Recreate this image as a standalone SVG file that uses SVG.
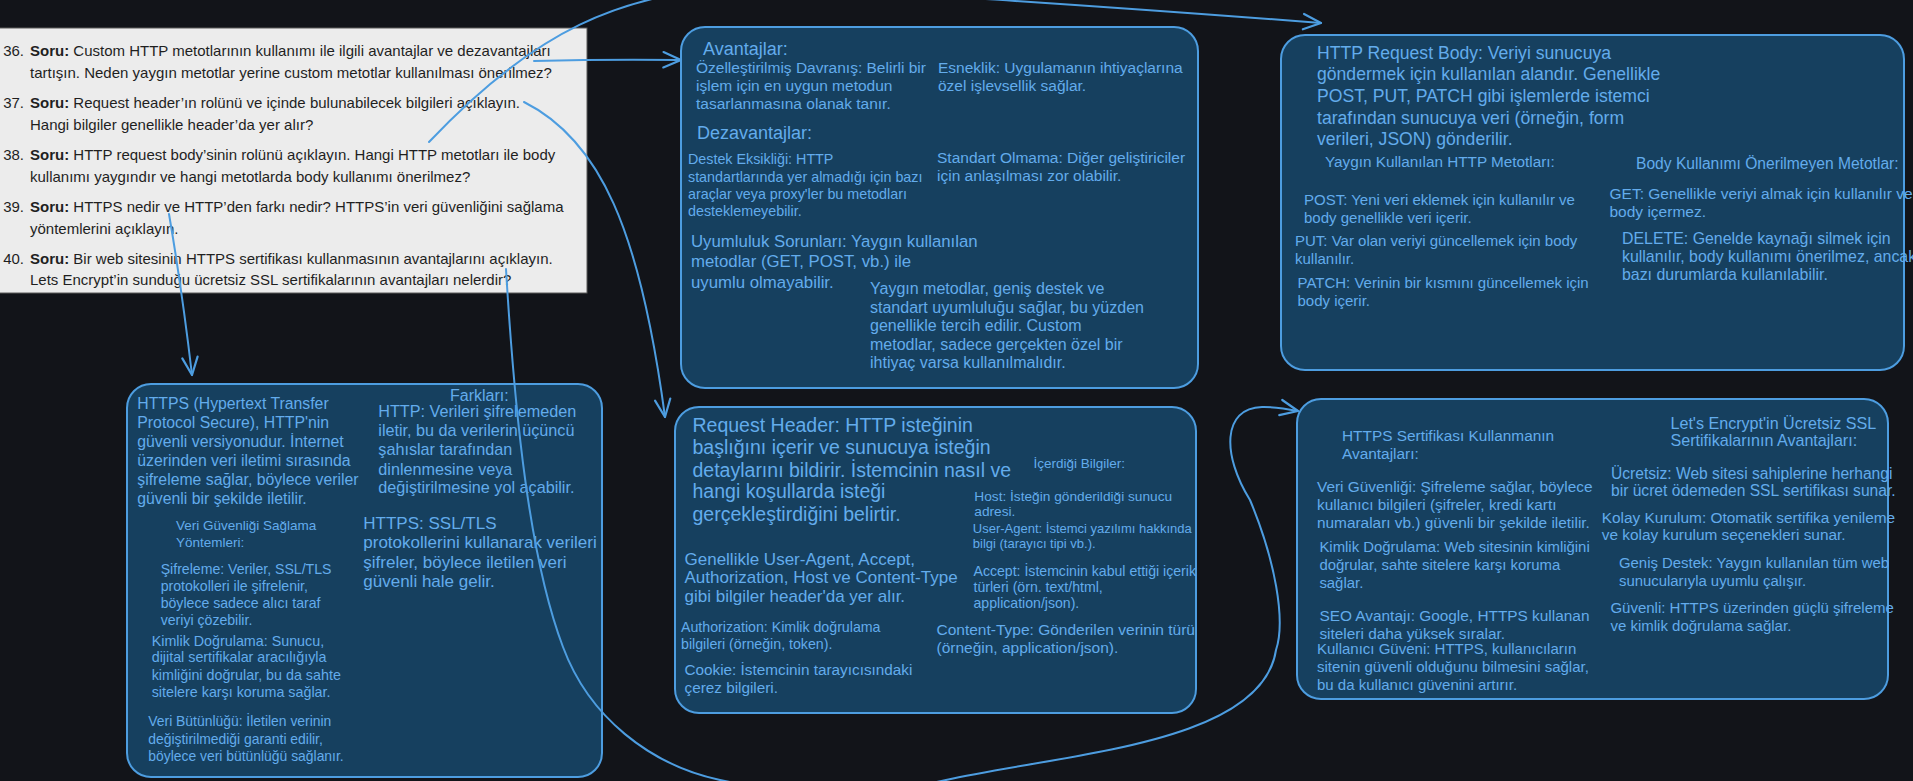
<svg xmlns="http://www.w3.org/2000/svg" width="1913" height="781" viewBox="0 0 1913 781">
<defs>
<style>
.bg{fill:#121419}
.box{fill:#16405f;stroke:#4d9de0;stroke-width:2}
.t{font-family:"Liberation Sans",Arial,sans-serif;fill:#63acec}
.q{font-family:"Liberation Sans",Arial,sans-serif;fill:#1f1f1f;font-size:15px}
.conn{fill:none;stroke:#4d9de0;stroke-width:2;stroke-linecap:round}
</style>
<marker id="ah" markerUnits="userSpaceOnUse" markerWidth="22" markerHeight="22" viewBox="0 0 20 20" refX="18" refY="10" orient="auto">
<path d="M2,3 L18,10 L2,17" fill="none" stroke="#4d9de0" stroke-width="2" stroke-linecap="round" stroke-linejoin="round"/>
</marker>
</defs>
<rect class="bg" x="0" y="0" width="1913" height="781"/>

<g id="questions">
<rect x="-10" y="28" width="597" height="265" fill="#ececec" stroke="#5a5a5a" stroke-width="1"/>
<text class="q" x="24" y="56" text-anchor="end">36.</text>
<text class="q" x="30" y="56"><tspan font-weight="bold">Soru:</tspan> Custom HTTP metotlarının kullanımı ile ilgili avantajlar ve dezavantajları</text>
<text class="q" x="30" y="78">tartışın. Neden yaygın metotlar yerine custom metotlar kullanılması önerilmez?</text>
<text class="q" x="24" y="108" text-anchor="end">37.</text>
<text class="q" x="30" y="108"><tspan font-weight="bold">Soru:</tspan> Request header’ın rolünü ve içinde bulunabilecek bilgileri açıklayın.</text>
<text class="q" x="30" y="130">Hangi bilgiler genellikle header’da yer alır?</text>
<text class="q" x="24" y="160" text-anchor="end">38.</text>
<text class="q" x="30" y="160"><tspan font-weight="bold">Soru:</tspan> HTTP request body’sinin rolünü açıklayın. Hangi HTTP metotları ile body</text>
<text class="q" x="30" y="182">kullanımı yaygındır ve hangi metotlarda body kullanımı önerilmez?</text>
<text class="q" x="24" y="212" text-anchor="end">39.</text>
<text class="q" x="30" y="212"><tspan font-weight="bold">Soru:</tspan> HTTPS nedir ve HTTP’den farkı nedir? HTTPS’in veri güvenliğini sağlama</text>
<text class="q" x="30" y="234">yöntemlerini açıklayın.</text>
<text class="q" x="24" y="264" text-anchor="end">40.</text>
<text class="q" x="30" y="264"><tspan font-weight="bold">Soru:</tspan> Bir web sitesinin HTTPS sertifikası kullanmasının avantajlarını açıklayın.</text>
<text class="q" x="30" y="285">Lets Encrypt’in sunduğu ücretsiz SSL sertifikalarının avantajları nelerdir?</text>
</g>

<g id="node-custom-methods">
<rect class="box" x="681" y="27" width="517" height="361" rx="24"/>
<text class="t" font-size="18" x="703" y="55">Avantajlar:</text>
<text class="t" font-size="15.5" x="696" y="73">Özelleştirilmiş Davranış: Belirli bir</text>
<text class="t" font-size="15.5" x="696" y="91">işlem için en uygun metodun</text>
<text class="t" font-size="15.5" x="696" y="109">tasarlanmasına olanak tanır.</text>
<text class="t" font-size="15.5" x="938" y="73">Esneklik: Uygulamanın ihtiyaçlarına</text>
<text class="t" font-size="15.5" x="938" y="91">özel işlevsellik sağlar.</text>
<text class="t" font-size="18" x="697" y="139">Dezavantajlar:</text>
<text class="t" font-size="14.3" x="688" y="164">Destek Eksikliği: HTTP</text>
<text class="t" font-size="14.3" x="688" y="181.5">standartlarında yer almadığı için bazı</text>
<text class="t" font-size="14.3" x="688" y="199">araçlar veya proxy'ler bu metodları</text>
<text class="t" font-size="14.3" x="688" y="216">desteklemeyebilir.</text>
<text class="t" font-size="15.5" x="937" y="163">Standart Olmama: Diğer geliştiriciler</text>
<text class="t" font-size="15.5" x="937" y="180.5">için anlaşılması zor olabilir.</text>
<text class="t" font-size="16.8" x="691" y="247">Uyumluluk Sorunları: Yaygın kullanılan</text>
<text class="t" font-size="16.8" x="691" y="267">metodlar (GET, POST, vb.) ile</text>
<text class="t" font-size="16.8" x="691" y="288">uyumlu olmayabilir.</text>
<text class="t" font-size="16" x="870" y="293.5">Yaygın metodlar, geniş destek ve</text>
<text class="t" font-size="16" x="870" y="312.5">standart uyumluluğu sağlar, bu yüzden</text>
<text class="t" font-size="16" x="870" y="331">genellikle tercih edilir. Custom</text>
<text class="t" font-size="16" x="870" y="349.5">metodlar, sadece gerçekten özel bir</text>
<text class="t" font-size="16" x="870" y="368">ihtiyaç varsa kullanılmalıdır.</text>
</g>

<g id="node-request-body">
<rect class="box" x="1281" y="35" width="623" height="335" rx="24"/>
<text class="t" font-size="17.6" x="1317" y="59">HTTP Request Body: Veriyi sunucuya</text>
<text class="t" font-size="17.6" x="1317" y="80">göndermek için kullanılan alandır. Genellikle</text>
<text class="t" font-size="17.6" x="1317" y="102">POST, PUT, PATCH gibi işlemlerde istemci</text>
<text class="t" font-size="17.6" x="1317" y="124">tarafından sunucuya veri (örneğin, form</text>
<text class="t" font-size="17.6" x="1317" y="145">verileri, JSON) gönderilir.</text>
<text class="t" font-size="15.3" x="1325" y="167">Yaygın Kullanılan HTTP Metotları:</text>
<text class="t" font-size="15.6" x="1636" y="169">Body Kullanımı Önerilmeyen Metotlar:</text>
<text class="t" font-size="15" x="1304" y="205">POST: Yeni veri eklemek için kullanılır ve</text>
<text class="t" font-size="15" x="1304" y="222.7">body genellikle veri içerir.</text>
<text class="t" font-size="15" x="1295" y="246">PUT: Var olan veriyi güncellemek için body</text>
<text class="t" font-size="15" x="1295" y="264">kullanılır.</text>
<text class="t" font-size="15" x="1297.5" y="287.7">PATCH: Verinin bir kısmını güncellemek için</text>
<text class="t" font-size="15" x="1297.5" y="306">body içerir.</text>
<text class="t" font-size="15.5" x="1609.5" y="199">GET: Genellikle veriyi almak için kullanılır ve</text>
<text class="t" font-size="15.5" x="1609.5" y="217">body içermez.</text>
<text class="t" font-size="15.9" x="1622" y="243.5">DELETE: Genelde kaynağı silmek için</text>
<text class="t" font-size="15.9" x="1622" y="262">kullanılır, body kullanımı önerilmez, ancak</text>
<text class="t" font-size="15.9" x="1622" y="280">bazı durumlarda kullanılabilir.</text>
</g>

<g id="node-https">
<rect class="box" x="127" y="384" width="475" height="393" rx="24"/>
<text class="t" font-size="15.8" x="137.3" y="409">HTTPS (Hypertext Transfer</text>
<text class="t" font-size="15.8" x="137.3" y="428">Protocol Secure), HTTP'nin</text>
<text class="t" font-size="15.8" x="137.3" y="447">güvenli versiyonudur. İnternet</text>
<text class="t" font-size="15.8" x="137.3" y="466">üzerinden veri iletimi sırasında</text>
<text class="t" font-size="15.8" x="137.3" y="485">şifreleme sağlar, böylece veriler</text>
<text class="t" font-size="15.8" x="137.3" y="503.5">güvenli bir şekilde iletilir.</text>
<text class="t" font-size="16" x="450" y="401">Farkları:</text>
<text class="t" font-size="16.2" x="378.3" y="417">HTTP: Verileri şifrelemeden</text>
<text class="t" font-size="16.2" x="378.3" y="436">iletir, bu da verilerin üçüncü</text>
<text class="t" font-size="16.2" x="378.3" y="455">şahıslar tarafından</text>
<text class="t" font-size="16.2" x="378.3" y="474.5">dinlenmesine veya</text>
<text class="t" font-size="16.2" x="378.3" y="493">değiştirilmesine yol açabilir.</text>
<text class="t" font-size="17" x="363.3" y="528.5">HTTPS: SSL/TLS</text>
<text class="t" font-size="17" x="363.3" y="548">protokollerini kullanarak verileri</text>
<text class="t" font-size="17" x="363.3" y="567.5">şifreler, böylece iletilen veri</text>
<text class="t" font-size="17" x="363.3" y="587">güvenli hale gelir.</text>
<text class="t" font-size="13.5" x="176" y="529.5">Veri Güvenliği Sağlama</text>
<text class="t" font-size="13.5" x="176" y="547">Yöntemleri:</text>
<text class="t" font-size="14.1" x="160.7" y="573.7">Şifreleme: Veriler, SSL/TLS</text>
<text class="t" font-size="14.1" x="160.7" y="591.4">protokolleri ile şifrelenir,</text>
<text class="t" font-size="14.1" x="160.7" y="608">böylece sadece alıcı taraf</text>
<text class="t" font-size="14.1" x="160.7" y="624.7">veriyi çözebilir.</text>
<text class="t" font-size="14.3" x="151.7" y="645.7">Kimlik Doğrulama: Sunucu,</text>
<text class="t" font-size="14.3" x="151.7" y="662.4">dijital sertifikalar aracılığıyla</text>
<text class="t" font-size="14.3" x="151.7" y="679.7">kimliğini doğrular, bu da sahte</text>
<text class="t" font-size="14.3" x="151.7" y="697">sitelere karşı koruma sağlar.</text>
<text class="t" font-size="13.9" x="148.3" y="726.3">Veri Bütünlüğü: İletilen verinin</text>
<text class="t" font-size="13.9" x="148.3" y="744">değiştirilmediği garanti edilir,</text>
<text class="t" font-size="13.9" x="148.3" y="760.6">böylece veri bütünlüğü sağlanır.</text>
</g>

<g id="node-request-header">
<rect class="box" x="675" y="407" width="521" height="306" rx="24"/>
<text class="t" font-size="19.5" x="692.5" y="431.5">Request Header: HTTP isteğinin</text>
<text class="t" font-size="19.5" x="692.5" y="454">başlığını içerir ve sunucuya isteğin</text>
<text class="t" font-size="19.5" x="692.5" y="476.5">detaylarını bildirir. İstemcinin nasıl ve</text>
<text class="t" font-size="19.5" x="692.5" y="498">hangi koşullarda isteği</text>
<text class="t" font-size="19.5" x="692.5" y="520.7">gerçekleştirdiğini belirtir.</text>
<text class="t" font-size="13.5" x="1033.5" y="468">İçerdiği Bilgiler:</text>
<text class="t" font-size="13.7" x="974.3" y="500.5">Host: İsteğin gönderildiği sunucu</text>
<text class="t" font-size="13.7" x="974.3" y="516.2">adresi.</text>
<text class="t" font-size="13" x="972.8" y="532.6">User-Agent: İstemci yazılımı hakkında</text>
<text class="t" font-size="13" x="972.8" y="547.6">bilgi (tarayıcı tipi vb.).</text>
<text class="t" font-size="17" x="684.5" y="564.6">Genellikle User-Agent, Accept,</text>
<text class="t" font-size="17" x="684.5" y="583.3">Authorization, Host ve Content-Type</text>
<text class="t" font-size="17" x="684.5" y="602.3">gibi bilgiler header'da yer alır.</text>
<text class="t" font-size="14.1" x="973.5" y="576.3">Accept: İstemcinin kabul ettiği içerik</text>
<text class="t" font-size="14.1" x="973.5" y="592">türleri (örn. text/html,</text>
<text class="t" font-size="14.1" x="973.5" y="608">application/json).</text>
<text class="t" font-size="14.2" x="681" y="632.4">Authorization: Kimlik doğrulama</text>
<text class="t" font-size="14.2" x="681" y="649">bilgileri (örneğin, token).</text>
<text class="t" font-size="15.5" x="936.5" y="635">Content-Type: Gönderilen verinin türü</text>
<text class="t" font-size="15.5" x="936.5" y="653.4">(örneğin, application/json).</text>
<text class="t" font-size="15.3" x="684.5" y="675">Cookie: İstemcinin tarayıcısındaki</text>
<text class="t" font-size="15.3" x="684.5" y="693.3">çerez bilgileri.</text>
</g>

<g id="node-https-certificate">
<rect class="box" x="1297" y="399" width="591" height="300" rx="24"/>
<text class="t" font-size="15.4" x="1342" y="441">HTTPS Sertifikası Kullanmanın</text>
<text class="t" font-size="15.4" x="1342" y="459">Avantajları:</text>
<text class="t" font-size="16.1" x="1670.5" y="429.3">Let's Encrypt'in Ücretsiz SSL</text>
<text class="t" font-size="16.1" x="1670.5" y="446.3">Sertifikalarının Avantajları:</text>
<text class="t" font-size="15.4" x="1317" y="492.4">Veri Güvenliği: Şifreleme sağlar, böylece</text>
<text class="t" font-size="15.4" x="1317" y="510">kullanıcı bilgileri (şifreler, kredi kartı</text>
<text class="t" font-size="15.4" x="1317" y="528.4">numaraları vb.) güvenli bir şekilde iletilir.</text>
<text class="t" font-size="14.9" x="1319.4" y="551.6">Kimlik Doğrulama: Web sitesinin kimliğini</text>
<text class="t" font-size="14.9" x="1319.4" y="570">doğrular, sahte sitelere karşı koruma</text>
<text class="t" font-size="14.9" x="1319.4" y="588.2">sağlar.</text>
<text class="t" font-size="15.4" x="1319.4" y="621">SEO Avantajı: Google, HTTPS kullanan</text>
<text class="t" font-size="15.4" x="1319.4" y="639.4">siteleri daha yüksek sıralar.</text>
<text class="t" font-size="15" x="1317" y="654">Kullanıcı Güveni: HTTPS, kullanıcıların</text>
<text class="t" font-size="15" x="1317" y="672.3">sitenin güvenli olduğunu bilmesini sağlar,</text>
<text class="t" font-size="15" x="1317" y="690">bu da kullanıcı güvenini artırır.</text>
<text class="t" font-size="15.6" x="1611" y="479">Ücretsiz: Web sitesi sahiplerine herhangi</text>
<text class="t" font-size="15.6" x="1611" y="495.8">bir ücret ödemeden SSL sertifikası sunar.</text>
<text class="t" font-size="15.4" x="1601.8" y="523.4">Kolay Kurulum: Otomatik sertifika yenileme</text>
<text class="t" font-size="15.4" x="1601.8" y="540">ve kolay kurulum seçenekleri sunar.</text>
<text class="t" font-size="14.9" x="1619" y="568.2">Geniş Destek: Yaygın kullanılan tüm web</text>
<text class="t" font-size="14.9" x="1619" y="585.6">sunucularıyla uyumlu çalışır.</text>
<text class="t" font-size="15" x="1610.4" y="613.3">Güvenli: HTTPS üzerinden güçlü şifreleme</text>
<text class="t" font-size="15" x="1610.4" y="630.7">ve kimlik doğrulama sağlar.</text>
</g>

<g id="connectors">
<path class="conn" d="M534,61 Q610,59 681,60" marker-end="url(#ah)"/>
<path class="conn" d="M429,142 C530,35 620,-12 760,-14 C860,-10 1100,6 1321,23" marker-end="url(#ah)"/>
<path class="conn" d="M524,102 C600,140 640,230 665,417" marker-end="url(#ah)"/>
<path class="conn" d="M169,214 Q182,290 192,375" marker-end="url(#ah)"/>
<path class="conn" d="M506,269 C515,420 530,560 563,647 C589,717 650,765 720,780 C790,795 880,795 946,780 C1060,754 1262,745 1276,650 C1286,620 1275,560 1250,500 C1222,455 1222,408 1262,407 C1275,406.7 1288,409 1298,411" marker-end="url(#ah)"/>
</g>
</svg>
